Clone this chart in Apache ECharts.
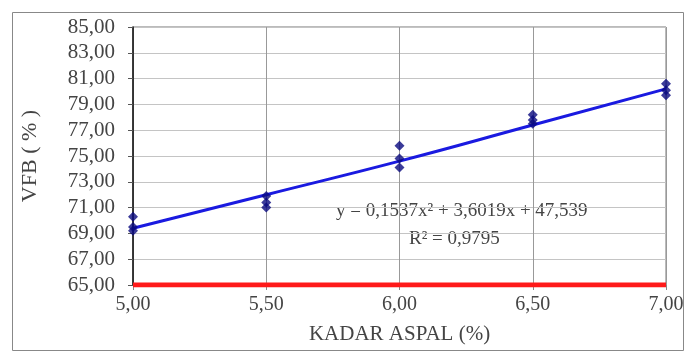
<!DOCTYPE html>
<html><head><meta charset="utf-8">
<script src="https://cdn.jsdelivr.net/npm/echarts@6/dist/echarts.min.js"></script>
<style>html,body{margin:0;padding:0;background:#fff}#c{width:688px;height:353px}</style>
</head><body><div id="c"></div>
<script>
const xTicks = [5.0, 5.5, 6.0, 6.5, 7.0];
const ptX = [5.0, 5.0, 5.0, 5.5, 5.5, 5.5, 6.0, 6.0, 6.0, 6.5, 6.5, 6.5, 7.0, 7.0, 7.0];
const ptY = [70.3, 69.5, 69.2, 71.9, 71.4, 71.0, 75.8, 74.8, 74.1, 78.2, 77.8, 77.5, 80.6, 80.1, 79.7];
const trendX = [5.0, 5.5, 6.0, 6.5, 7.0];
const trendY = [69.4, 72.0, 74.6, 77.4, 80.2];
const limitX = [5.0, 7.0];
const limitY = [65.0, 65.0];
const eqText = 'y = 0,1537x² + 3,6019x + 47,539';
const r2Text = 'R² = 0,9795';

const fmt = v => v.toFixed(2).replace('.', ',');
const font = 'Liberation Serif';
const chart = echarts.init(document.getElementById('c'), null, {renderer: 'canvas'});
chart.setOption({
  animation: false,
  backgroundColor: '#fff',
  grid: {left: 133, right: 22, top: 27, bottom: 68, show: true, borderColor: '#777', borderWidth: 1},
  xAxis: {
    type: 'value', min: 5, max: 7, interval: 0.5,
    name: 'KADAR ASPAL (%)', nameLocation: 'middle', nameGap: 39,
    nameTextStyle: {fontFamily: font, fontSize: 21, color: '#444'},
    axisLine: {show: true, onZero: false, lineStyle: {color: '#888'}},
    axisTick: {show: true, length: 5, lineStyle: {color: '#888'}},
    axisLabel: {fontFamily: font, fontSize: 20, color: '#444', margin: 10, formatter: fmt},
    splitLine: {show: true, lineStyle: {color: '#999', width: 1}}
  },
  yAxis: {
    type: 'value', min: 65, max: 85, interval: 2,
    name: 'VFB ( % )', nameLocation: 'middle', nameGap: 92, nameRotate: 90,
    nameTextStyle: {fontFamily: font, fontSize: 22, color: '#444'},
    axisLine: {show: true, onZero: false, lineStyle: {color: '#111', width: 1.5}},
    axisTick: {show: true, length: 5, lineStyle: {color: '#555'}},
    axisLabel: {fontFamily: font, fontSize: 21, color: '#444', margin: 18, formatter: fmt},
    splitLine: {show: true, lineStyle: {color: '#c4c4c4', width: 1.2}}
  },
  series: [
    {type: 'line', data: limitX.map((x, i) => [x, limitY[i]]), symbol: 'none',
     lineStyle: {color: '#ff1a1a', width: 5}, z: 3},
    {type: 'line', data: trendX.map((x, i) => [x, trendY[i]]), symbol: 'none', smooth: true,
     lineStyle: {color: '#1a1ae0', width: 3}, z: 4},
    {type: 'scatter', data: ptX.map((x, i) => [x, ptY[i]]), symbol: 'diamond', symbolSize: 10,
     itemStyle: {color: '#0a0a80'}, z: 5}
  ],
  graphic: [
    {type: 'rect', shape: {x: 12.5, y: 12.5, width: 671, height: 338}, style: {fill: 'none', stroke: '#888', lineWidth: 1}, silent: true},
    {type: 'text', left: 336, top: 202, style: {text: eqText, font: '19px "Liberation Serif"', fill: '#444'}},
    {type: 'text', left: 409, top: 230, style: {text: r2Text, font: '19px "Liberation Serif"', fill: '#444'}}
  ]
});
</script></body></html>
